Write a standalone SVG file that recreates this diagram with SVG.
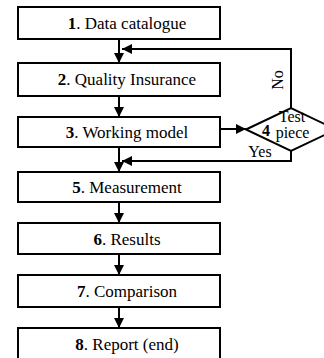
<svg xmlns="http://www.w3.org/2000/svg" width="324" height="358" viewBox="0 0 324 358" font-family="Liberation Serif, Times New Roman, Times, serif">
<style>
.box{fill:#fff;stroke:#000;stroke-width:2}
text{font-family:"Liberation Serif","Times New Roman",Times,serif}
.t{font-size:17px;fill:#000;text-anchor:middle}
.s{font-size:16px;fill:#000}
.c{fill:none;stroke:#000;stroke-width:2}
</style>
<defs>
<marker id="ah" viewBox="0 0 10 10" refX="10" refY="5" markerWidth="5" markerHeight="5" markerUnits="strokeWidth" orient="auto">
<path d="M0,0 L10,5 L0,10 z" fill="#000"/>
</marker>
</defs>
<rect width="324" height="358" fill="#fff"/>
<g id="connectors">
<line class="c" x1="119" y1="39" x2="119" y2="63" marker-end="url(#ah)"/>
<line class="c" x1="119" y1="96" x2="119" y2="117" marker-end="url(#ah)"/>
<line class="c" x1="119" y1="147" x2="119" y2="172" marker-end="url(#ah)"/>
<line class="c" x1="119" y1="202" x2="119" y2="223" marker-end="url(#ah)"/>
<line class="c" x1="119" y1="254" x2="119" y2="275" marker-end="url(#ah)"/>
<line class="c" x1="119" y1="307" x2="119" y2="328" marker-end="url(#ah)"/>
<line class="c" x1="220" y1="129" x2="246" y2="129" marker-end="url(#ah)"/>
<polyline class="c" points="291,108 291,49 122,49" marker-end="url(#ah)"/>
<polyline class="c" points="291,151 291,161 122,161" marker-end="url(#ah)"/>
<text class="s" font-size="15" transform="translate(283,80) rotate(-90)" text-anchor="middle">No</text>
<text class="s" x="260" y="157" text-anchor="middle">Yes</text>
</g>
<g id="n1"><rect class="box" x="18" y="7" width="202" height="32"/><text class="t" x="127" y="29"><tspan font-weight="bold">1</tspan>. Data catalogue</text></g>
<g id="n2"><rect class="box" x="18" y="63" width="202" height="33"/><text class="t" x="127" y="85"><tspan font-weight="bold">2</tspan>. Quality Insurance</text></g>
<g id="n3"><rect class="box" x="18" y="117" width="202" height="30"/><text class="t" x="127" y="138"><tspan font-weight="bold">3</tspan>. Working model</text></g>
<g id="n4"><polygon class="box" points="246,129.5 291,108 336,129.5 291,151"/><text class="s" x="262" y="136" font-weight="bold">4</text><text class="s" font-size="15" x="292" y="122" text-anchor="middle">Test</text><text class="s" font-size="15" x="292.5" y="138" text-anchor="middle">piece</text></g>
<g id="n5"><rect class="box" x="18" y="172" width="202" height="30"/><text class="t" x="127" y="193"><tspan font-weight="bold">5</tspan>. Measurement</text></g>
<g id="n6"><rect class="box" x="18" y="223" width="202" height="31"/><text class="t" x="127" y="245"><tspan font-weight="bold">6</tspan>. Results</text></g>
<g id="n7"><rect class="box" x="18" y="275" width="202" height="32"/><text class="t" x="127" y="297"><tspan font-weight="bold">7</tspan>. Comparison</text></g>
<g id="n8"><rect class="box" x="18" y="328" width="202" height="40"/><text class="t" x="127" y="350"><tspan font-weight="bold">8</tspan>. Report (end)</text></g>
</svg>
